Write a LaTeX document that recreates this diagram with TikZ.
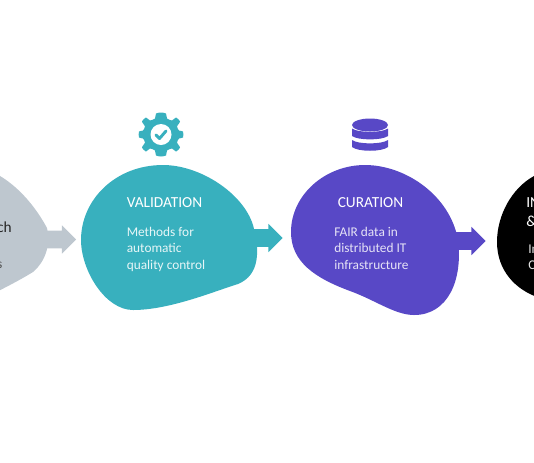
\documentclass[tikz,border=0pt]{standalone}
\usepackage{fontspec}
\setmainfont{Carlito}
\usepackage{xcolor}
\usetikzlibrary{positioning,calc,shapes.arrows}
\definecolor{graygrey}{RGB}{190,199,207}
\definecolor{valteal}{RGB}{56,176,190}
\definecolor{curviolet}{RGB}{88,72,198}
\tikzset{
    headtext/.style={font=\fontsize{11.5pt}{13pt}\selectfont,anchor=west,inner sep=0pt,text=white},
    bodytext/.style={font=\fontsize{10pt}{12.4pt}\selectfont,anchor=north west,align=left,inner sep=0pt,text=white!88!valteal},
    stepflow/.style={single arrow,minimum height=32pt,minimum width=21pt,single arrow head extend=4pt,single arrow tip angle=90,inner xsep=0pt,inner ysep=6.4pt,anchor=tip}
}
\begin{document}
\begin{tikzpicture}[x=0.75pt,y=-0.75pt]
    \useasboundingbox (0,0) rectangle (534,462);
    \clip (0,0) rectangle (534,462);
    % arrows behind the blobs
    \node[stepflow,fill=graygrey] (arrowa) at (76.5,239.5) {};
    \node[stepflow,fill=valteal] (arrowb) at (283,238) {};
    \node[stepflow,fill=curviolet] (arrowc) at (486,241) {};
    % blobs
    \fill[graygrey] (-30,165) .. controls (5,170) and (32,200) .. (47,228) .. controls (51,245) and (45,262) .. (33,272) .. controls (20,280) and (5,288) .. (-30,305) -- cycle;
    \fill[valteal] (163,165) .. controls (200,165) and (243,193) .. (253,225) .. controls (260,250) and (260,275) .. (238,284) .. controls (215,291) and (170,310) .. (133,310) .. controls (105,310) and (81,270) .. (81,240) .. controls (81,200) and (115,165) .. (163,165) -- cycle;
    \fill[curviolet] (365,165) .. controls (405,165) and (450,195) .. (458,240) .. controls (463,280) and (448,315) .. (414,315) .. controls (395,315) and (375,300) .. (350,291) .. controls (315,278) and (291,262) .. (291,232) .. controls (291,195) and (325,165) .. (365,165) -- cycle;
    \fill[black] (534,176) .. controls (512,188) and (497,215) .. (497,242) .. controls (497,270) and (515,290) .. (540,298) -- (540,176) -- cycle;
    % gear icon
    \begin{scope}[shift={(161,134.5)}]
        \fill[valteal] plot[smooth cycle,tension=0.35] coordinates {
            (0,-22) (5,-21) (6,-16) (11,-14) (15,-17) (19,-13) (16,-8) (18,-4) (22,-3) (22,3) (18,4) (16,8) (19,13) (15,17) (11,14) (6,16) (5,21) (0,22)
            (-5,21) (-6,16) (-11,14) (-15,17) (-19,13) (-16,8) (-18,4) (-22,3) (-22,-3) (-18,-4) (-16,-8) (-19,-13) (-15,-17) (-11,-14) (-6,-16) (-5,-21)};
        \fill[white] (0,0) circle (10.5);
        \draw[valteal,line width=2.2pt,line cap=round,line join=round] (-5,0.5) -- (-1.5,4) -- (5,-3.5);
    \end{scope}
    % database icon
    \begin{scope}[shift={(370,135)}]
        \fill[curviolet] (-18,-10) arc[start angle=180,end angle=360,x radius=18,y radius=6.5] -- (18,-10) arc[start angle=0,end angle=180,x radius=18,y radius=6.5] -- cycle;
        \fill[curviolet] (-18,-6.5) .. controls (-12,-2) and (12,-2) .. (18,-6.5) -- (18,1) .. controls (12,5.5) and (-12,5.5) .. (-18,1) -- cycle;
        \fill[curviolet] (-18,5) .. controls (-12,9.5) and (12,9.5) .. (18,5) -- (18,12) .. controls (12,17) and (-12,17) .. (-18,12) -- cycle;
    \end{scope}
    % texts
    \node[anchor=east,inner sep=0pt,font=\fontsize{11.5pt}{13pt}\selectfont,text=black!85] (labela) at (12,227) {ch};
    \node[anchor=east,inner sep=0pt,font=\fontsize{10pt}{12pt}\selectfont,text=black!70] (suba) at (2.5,265.5) {s};
    \node[headtext] (labelb) at (126.5,203) {VALIDATION};
    \node[bodytext] (subb) at (126.5,226.5) {Methods for\\automatic\\quality control};
    \node[headtext] (labelc) at (337.5,203) {CURATION};
    \node[bodytext,text=white!85!curviolet] (subc) at (334,226.5) {FAIR data in\\distributed IT\\infrastructure};
    \node[headtext] (labeld) at (526,202.5) {IN};
    \node[headtext] (labeldb) at (526,221) {\&};
    \node[bodytext,text=white!90!black] (subd) at (528,244.5) {In\\C};
\end{tikzpicture}
\end{document}
